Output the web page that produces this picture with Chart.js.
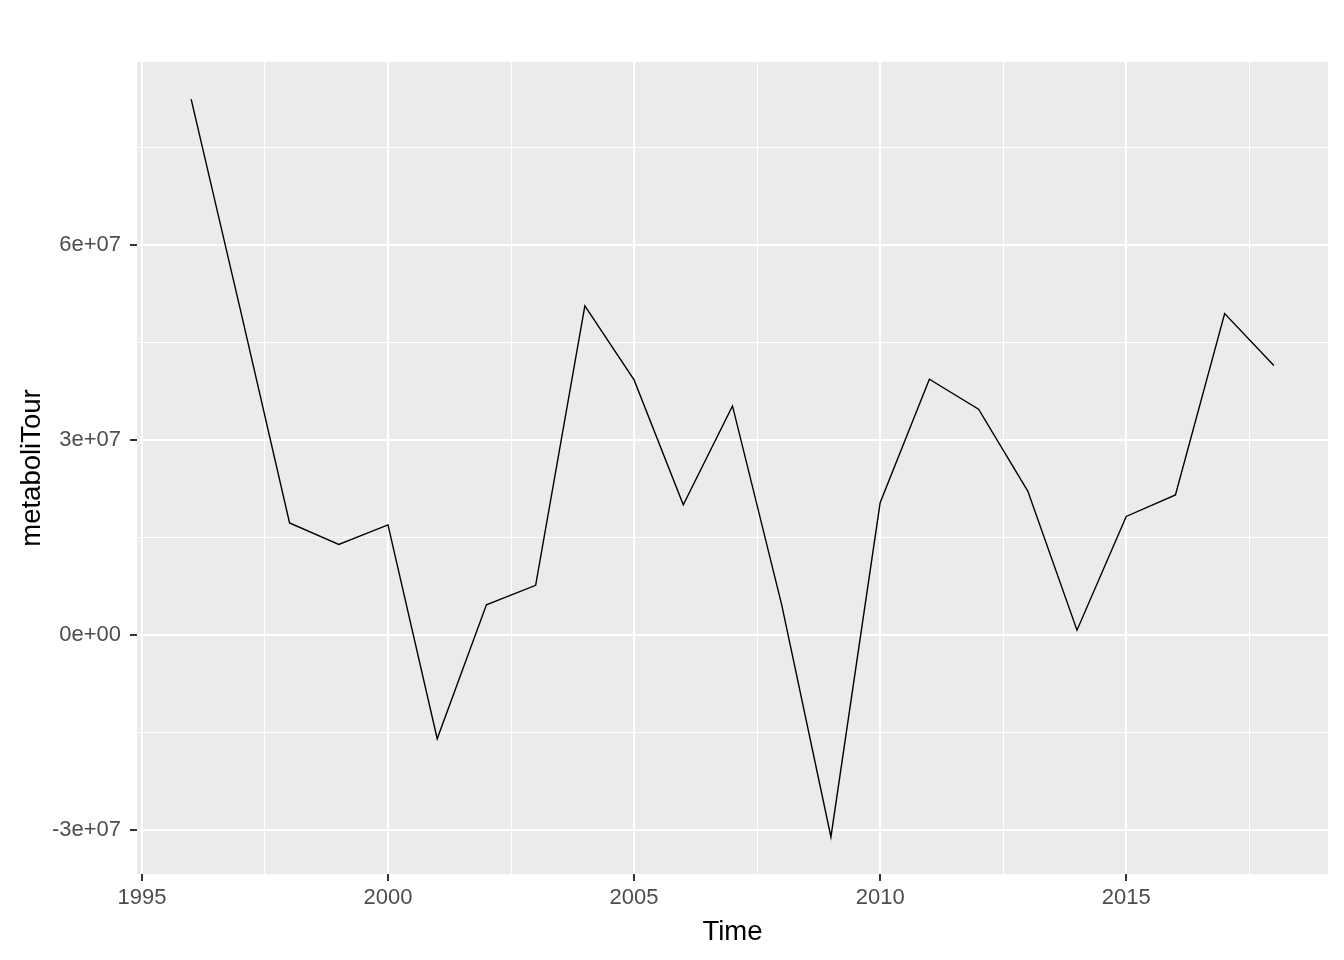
<!DOCTYPE html>
<html>
<head>
<meta charset="utf-8">
<script src="https://cdn.jsdelivr.net/npm/chart.js@4"></script>
<style>
  body { margin: 0; background: #fff; }
  #wrap { width: 1344px; height: 960px; }
</style>
</head>
<body>
<div id="wrap"><canvas id="chart1" width="1344" height="960"></canvas></div>
<script>
// data
const years = [1996, 1997, 1998, 1999, 2000, 2001, 2002, 2003, 2004, 2005, 2006, 2007,
  2008, 2009, 2010, 2011, 2012, 2013, 2014, 2015, 2016, 2017, 2018]
const metaboliTour = [82.4e6, 50.0e6, 17.2e6, 13.9e6, 16.9e6, -16.0e6, 4.6e6, 7.6e6, 50.6e6, 39.2e6, 20.0e6, 35.2e6,
  4.6e6, -31.1e6, 20.3e6, 39.3e6, 34.7e6, 22.1e6, 0.7e6, 18.2e6, 21.5e6, 49.4e6, 41.4e6]

const xMajor = [1995, 2000, 2005, 2010, 2015]
const xMinor = [1997.5, 2002.5, 2007.5, 2012.5, 2017.5]
const yMajor = [-3e7, 0, 3e7, 6e7]
const yMinor = [-1.5e7, 1.5e7, 4.5e7, 7.5e7]
const yLabels = ['-3e+07', '0e+00', '3e+07', '6e+07']

const isMajor = (list, v) => list.includes(v)

// grey panel behind the grid
const panelBg = {
  id: 'panelBg',
  beforeDraw(chart) {
    const { ctx, chartArea: a } = chart
    ctx.save()
    ctx.fillStyle = '#EBEBEB'
    ctx.fillRect(a.left, a.top, a.right - a.left, a.bottom - a.top)
    ctx.restore()
  }
}

function drawChart() {
  const data = {
    datasets: [{
      label: 'metaboliTour',
      data: years.map((x, i) => ({ x, y: metaboliTour[i] })),
      borderColor: '#000000',
      borderWidth: 1.4,
      pointRadius: 0,
      tension: 0,
      fill: false
    }]
  }

  const tickFont = { family: 'Liberation Sans, Arial, sans-serif', size: 22 }
  const titleFont = { family: 'Liberation Sans, Arial, sans-serif', size: 27.5 }

  const options = {
    responsive: false,
    animation: false,
    layout: { padding: { top: 62, right: 16, left: 0, bottom: 0 } },
    plugins: {
      legend: { display: false },
      tooltip: { enabled: false }
    },
    scales: {
      x: {
        type: 'linear',
        min: 1994.9,
        max: 2019.1,
        afterBuildTicks: scale => {
          scale.ticks = [...xMajor, ...xMinor].sort((a, b) => a - b).map(value => ({ value }))
        },
        afterFit: scale => { scale.height = 86 },
        border: { display: false },
        grid: {
          color: '#FFFFFF',
          lineWidth: ctx => isMajor(xMajor, ctx.tick.value) ? 2 : 1,
          tickLength: 7,
          tickWidth: 2,
          tickColor: ctx => isMajor(xMajor, ctx.tick.value) ? '#333333' : 'rgba(0,0,0,0)'
        },
        ticks: {
          autoSkip: false,
          maxRotation: 0,
          padding: 4,
          color: '#4D4D4D',
          font: tickFont,
          callback: v => isMajor(xMajor, v) ? String(v) : ''
        },
        title: {
          display: true,
          text: 'Time',
          color: '#000000',
          font: titleFont,
          padding: { top: 0, bottom: 11 }
        }
      },
      y: {
        type: 'linear',
        min: -36.8e6,
        max: 88.1e6,
        afterBuildTicks: scale => {
          scale.ticks = [...yMajor, ...yMinor].sort((a, b) => a - b).map(value => ({ value }))
        },
        afterFit: scale => { scale.width = 137 },
        border: { display: false },
        grid: {
          color: '#FFFFFF',
          lineWidth: ctx => isMajor(yMajor, ctx.tick.value) ? 2 : 1,
          tickLength: 7,
          tickWidth: 2,
          tickColor: ctx => isMajor(yMajor, ctx.tick.value) ? '#333333' : 'rgba(0,0,0,0)'
        },
        ticks: {
          autoSkip: false,
          padding: 9,
          color: '#4D4D4D',
          font: tickFont,
          callback: v => isMajor(yMajor, v) ? yLabels[yMajor.indexOf(v)] : ''
        },
        title: {
          display: true,
          text: 'metaboliTour',
          color: '#000000',
          font: titleFont,
          padding: { top: 16, bottom: 0 }
        }
      }
    }
  }

  new Chart('chart1', {
    type: 'line',
    data,
    options,
    plugins: [panelBg]
  })
}

drawChart()
</script>
</body>
</html>
